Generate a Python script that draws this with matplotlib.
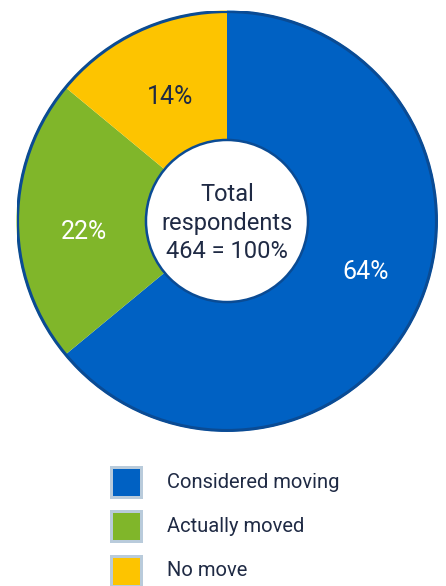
import matplotlib.pyplot as plt
from matplotlib.patches import Circle, Rectangle

labels = ['Considered moving', 'Actually moved', 'No move']
shares = [64, 22, 14]
colors = ['#0061C3', '#80B62A', '#FDC400']
label_colors = ['white', 'white', '#1F2A44']
center_lines = ['Total', 'respondents', '464 = 100%']

# small nudges of the % labels away from the default mid-angle spot
label_nudge = [(0.06, 0.04), (-0.02, -0.05), (0.01, -0.01)]

plt.rcParams['font.family'] = ['Roboto', 'DejaVu Sans']

W, H = 446, 586
fig = plt.figure(figsize=(W / 100, H / 100), dpi=100)

# pie axes: centre (227, 221) px from top, radius ~210 px
cx, cy, r = 227, 221, 210.5
ax = fig.add_axes([(cx - r) / W, (H - cy - r) / H, 2 * r / W, 2 * r / H])

wedges, texts = ax.pie(shares, colors=colors, startangle=90, counterclock=False,
                       radius=1, wedgeprops=dict(linewidth=0),
                       labels=[f'{s}%' for s in shares], labeldistance=0.66,
                       textprops=dict(fontsize=18))
for t, c, (dx, dy) in zip(texts, label_colors, label_nudge):
    x, y = t.get_position()
    t.set_position((x + dx, y + dy))
    t.set_color(c)
    t.set_ha('center')
    t.set_va('center')

ax.set_xlim(-1, 1)
ax.set_ylim(-1, 1)
ax.set_aspect('equal')
ax.axis('off')

ax.add_patch(Circle((0, 0), 0.995, fill=False, edgecolor='#0A4B94', lw=2.2, zorder=3))
inner = Circle((0, 0), 0.385, facecolor='white', edgecolor='#0A4B94', lw=1.8, zorder=4)
ax.add_patch(inner)
ax.text(0, -0.01, '\n'.join(center_lines), ha='center', va='center', fontsize=17,
        color='#1F2A44', linespacing=1.3, zorder=5)

# legend
for i, (lab, col) in enumerate(zip(labels, colors)):
    yc = 482 + i * 44.5
    fig.patches.append(Rectangle((110 / W, (H - yc - 16.5) / H), 33 / W, 33 / H,
                                 transform=fig.transFigure, facecolor='#B9CBDB',
                                 edgecolor='none'))
    fig.patches.append(Rectangle((113 / W, (H - yc - 13.5) / H), 27 / W, 27 / H,
                                 transform=fig.transFigure, facecolor=col,
                                 edgecolor='none'))
    fig.text(167 / W, (H - yc) / H, lab, ha='left', va='center', fontsize=14.5,
             color='#1F2A44')

fig.savefig('out.png', dpi=100)
